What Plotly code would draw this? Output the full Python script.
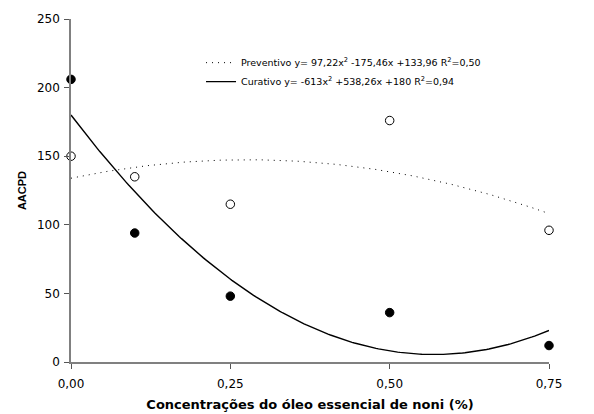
import numpy as np
import plotly.graph_objects as go

# Observed data
conc = [0.0, 0.10, 0.25, 0.50, 0.75]
preventivo = [150, 135, 115, 176, 96]
curativo = [206, 94, 48, 36, 12]

# Quadratic fit coefficients (a*x^2 + b*x + c) as drawn
prev_coef = [-175.46, 97.22, 133.96]
cur_coef = [538.26, -613.0, 180.0]

prev_label = "Preventivo y= 97,22x<sup>2</sup> -175,46x +133,96 R<sup>2</sup>=0,50"
cur_label = "Curativo y= -613x<sup>2</sup> +538,26x +180 R<sup>2</sup>=0,94"

x_ticks = [0, 0.25, 0.5, 0.75]
x_ticklabels = ["0,00", "0,25", "0,50", "0,75"]
y_ticks = [0, 50, 100, 150, 200, 250]

xs = np.linspace(0, 0.75, 200)
prev_fit = np.polyval(prev_coef, xs)
cur_fit = np.polyval(cur_coef, xs)

FONT = "DejaVu Sans"

fig = go.Figure()
fig.add_trace(go.Scatter(x=xs, y=prev_fit, mode="lines", name=prev_label,
                         line=dict(color="black", width=1, dash="1px,5px"), cliponaxis=False))
fig.add_trace(go.Scatter(x=xs, y=cur_fit, mode="lines", name=cur_label,
                         line=dict(color="black", width=1.4), cliponaxis=False))
fig.add_trace(go.Scatter(x=conc, y=preventivo, mode="markers", showlegend=False,
                         marker=dict(symbol="circle", size=8.5, color="white",
                                     line=dict(color="black", width=1)), cliponaxis=False))
fig.add_trace(go.Scatter(x=conc, y=curativo, mode="markers", showlegend=False,
                         marker=dict(symbol="circle", size=8.5, color="black",
                                     line=dict(color="black", width=1)), cliponaxis=False))

fig.update_layout(
    width=594, height=414,
    margin=dict(l=71, r=45, t=19, b=52),
    plot_bgcolor="white", paper_bgcolor="white",
    font=dict(family=FONT, color="black", size=12),
    legend=dict(x=0.272, y=0.915, xanchor="left", yanchor="top",
                bgcolor="rgba(0,0,0,0)", font=dict(size=9.5, family=FONT),
                tracegroupgap=0),
    xaxis=dict(range=[0, 0.75], tickvals=x_ticks, ticktext=x_ticklabels,
               automargin=False,
               showgrid=False, zeroline=False, showline=True, linecolor="#808080",
               linewidth=1.5, ticks="outside", ticklen=5, tickcolor="#555555",
               ticklabelstandoff=5,
               title=dict(text="<b>Concentrações do óleo essencial de noni (%)</b>",
                          font=dict(size=13, family=FONT), standoff=10)),
    yaxis=dict(range=[0, 250], tickvals=y_ticks, automargin=False,
               showgrid=False, zeroline=False, showline=True, linecolor="#808080",
               linewidth=1.5, ticks="outside", ticklen=5, tickcolor="#555555",
               ticklabelstandoff=2,
               title=dict(text="<b>AACPD</b>",
                          font=dict(size=11, family="Liberation Sans"), standoff=8)),
)

fig.write_html("out.html")
